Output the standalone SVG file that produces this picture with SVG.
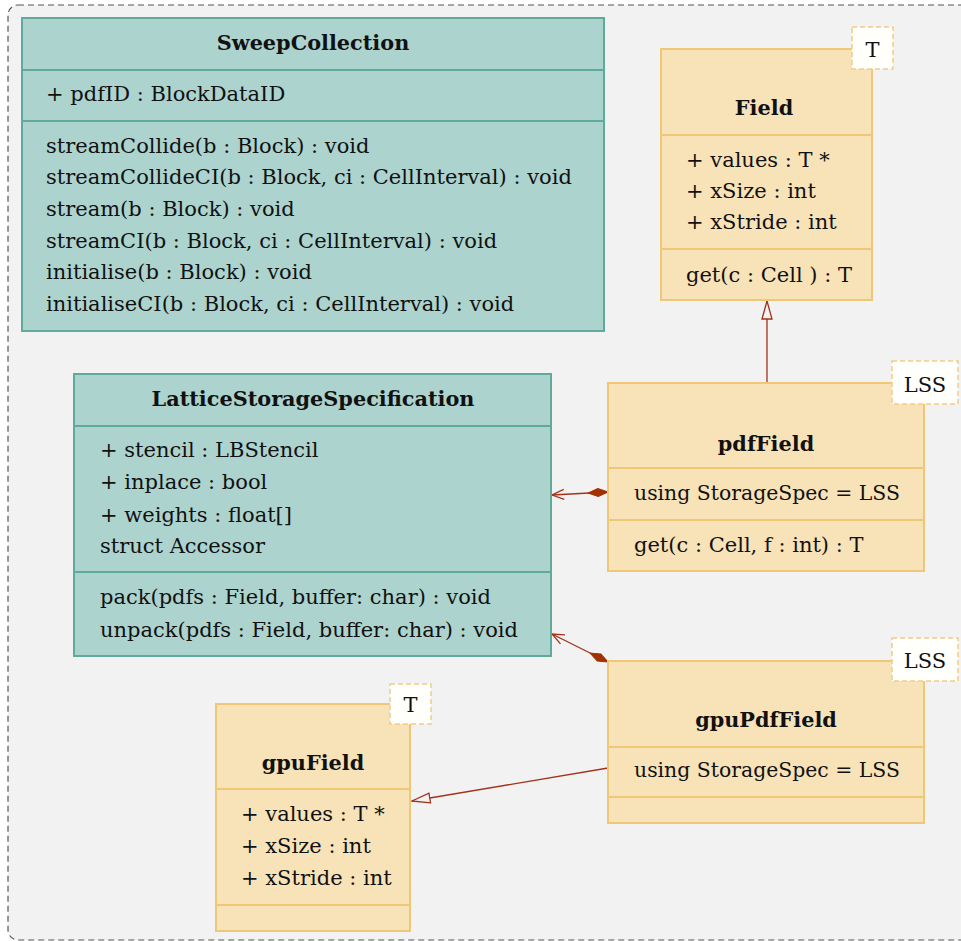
<svg xmlns="http://www.w3.org/2000/svg" width="961" height="941" viewBox="0 0 961 941">
<defs>
<style>
text{font-family:"DejaVu Serif","Liberation Serif",serif;font-size:21px;fill:#111}
.b{font-weight:bold;text-anchor:middle;font-size:20.8px}
.c{text-anchor:middle}
.u{font-size:20.4px}
.teal{fill:#acd3ce;stroke:#5eab9c;stroke-width:2}
.tl{stroke:#5eab9c;stroke-width:2}
.or{fill:#f8e2b8;stroke:#f0c677;stroke-width:2}
.ol{stroke:#f0c677;stroke-width:2}
.tag{fill:#fffffb;stroke:#f0cd8a;stroke-width:1.5;stroke-dasharray:5 3}
.con{stroke:#a3321a;stroke-width:1.3;fill:none}
</style>
<marker id="tri" viewBox="0 0 20 12" refX="19" refY="6" markerWidth="20" markerHeight="12" markerUnits="userSpaceOnUse" orient="auto">
<path d="M1,1 L19,6 L1,11 Z" fill="#f2f2f2" stroke="#a3321a" stroke-width="1.3"/>
</marker>
<marker id="open" viewBox="0 0 14 12" refX="13" refY="6" markerWidth="14" markerHeight="12" markerUnits="userSpaceOnUse" orient="auto">
<path d="M1,1 L13,6 L1,11" fill="none" stroke="#a3321a" stroke-width="1.3"/>
</marker>
<marker id="dia" viewBox="0 0 22 10" refX="1" refY="5" markerWidth="22" markerHeight="10" markerUnits="userSpaceOnUse" orient="auto">
<path d="M1,5 L11,1 L21,5 L11,9 Z" fill="#a33000" stroke="#a33000" stroke-width="1"/>
</marker>
</defs>
<rect x="8" y="5" width="965" height="935" rx="10" fill="#f2f2f2" stroke="#555" stroke-width="1.2" stroke-dasharray="6 4"/>

<g id="connectors">
<line class="con" x1="767" y1="383" x2="767" y2="301" marker-end="url(#tri)"/>
<line class="con" x1="608" y1="492" x2="552" y2="495" marker-start="url(#dia)" marker-end="url(#open)"/>
<line class="con" x1="608" y1="662" x2="552" y2="634" marker-start="url(#dia)" marker-end="url(#open)"/>
<line class="con" x1="608" y1="768" x2="412" y2="801" marker-end="url(#tri)"/>
</g>

<g id="SweepCollection">
<rect class="teal" x="22" y="18" width="582" height="313"/>
<line class="tl" x1="22" y1="70" x2="604" y2="70"/>
<line class="tl" x1="22" y1="121" x2="604" y2="121"/>
<text class="b" x="313" y="50">SweepCollection</text>
<text x="46" y="101">+ pdfID : BlockDataID</text>
<text x="46" y="153">streamCollide(b : Block) : void</text>
<text x="46" y="184">streamCollideCI(b : Block, ci : CellInterval) : void</text>
<text x="46" y="216">stream(b : Block) : void</text>
<text x="46" y="248">streamCI(b : Block, ci : CellInterval) : void</text>
<text x="46" y="279">initialise(b : Block) : void</text>
<text x="46" y="311">initialiseCI(b : Block, ci : CellInterval) : void</text>
</g>

<g id="Field">
<rect class="or" x="661" y="49" width="211" height="251"/>
<line class="ol" x1="661" y1="135" x2="872" y2="135"/>
<line class="ol" x1="661" y1="249" x2="872" y2="249"/>
<text class="b" x="764" y="115">Field</text>
<text x="686" y="167">+ values : T *</text>
<text x="686" y="198">+ xSize : int</text>
<text x="686" y="229">+ xStride : int</text>
<text x="686" y="282">get(c : Cell ) : T</text>
<rect class="tag" x="852" y="27" width="41" height="42"/>
<text class="c" x="872.5" y="57">T</text>
</g>

<g id="LatticeStorageSpecification">
<rect class="teal" x="74" y="374" width="477" height="282"/>
<line class="tl" x1="74" y1="426" x2="551" y2="426"/>
<line class="tl" x1="74" y1="572" x2="551" y2="572"/>
<text class="b" x="313" y="406">LatticeStorageSpecification</text>
<text x="100" y="457">+ stencil : LBStencil</text>
<text x="100" y="489">+ inplace : bool</text>
<text x="100" y="522">+ weights : float[]</text>
<text x="100" y="553">struct Accessor</text>
<text x="100" y="604">pack(pdfs : Field, buffer: char) : void</text>
<text x="100" y="637">unpack(pdfs : Field, buffer: char) : void</text>
</g>

<g id="pdfField">
<rect class="or" x="608" y="383" width="316" height="188"/>
<line class="ol" x1="608" y1="468" x2="924" y2="468"/>
<line class="ol" x1="608" y1="520" x2="924" y2="520"/>
<text class="b" x="766" y="451">pdfField</text>
<text class="u" x="634" y="500">using StorageSpec = LSS</text>
<text x="634" y="552">get(c : Cell, f : int) : T</text>
<rect class="tag" x="892" y="361" width="66" height="43"/>
<text class="c" x="925" y="392">LSS</text>
</g>

<g id="gpuPdfField">
<rect class="or" x="608" y="661" width="316" height="162"/>
<line class="ol" x1="608" y1="747" x2="924" y2="747"/>
<line class="ol" x1="608" y1="797" x2="924" y2="797"/>
<text class="b" x="766" y="727">gpuPdfField</text>
<text class="u" x="634" y="777">using StorageSpec = LSS</text>
<rect class="tag" x="892" y="638" width="66" height="43"/>
<text class="c" x="925" y="668">LSS</text>
</g>

<g id="gpuField">
<rect class="or" x="216" y="704" width="194" height="227"/>
<line class="ol" x1="216" y1="789" x2="410" y2="789"/>
<line class="ol" x1="216" y1="905" x2="410" y2="905"/>
<text class="b" x="313" y="770">gpuField</text>
<text x="241" y="821">+ values : T *</text>
<text x="241" y="853">+ xSize : int</text>
<text x="241" y="885">+ xStride : int</text>
<rect class="tag" x="390" y="684" width="41" height="40"/>
<text class="c" x="410.5" y="712">T</text>
</g>
</svg>
